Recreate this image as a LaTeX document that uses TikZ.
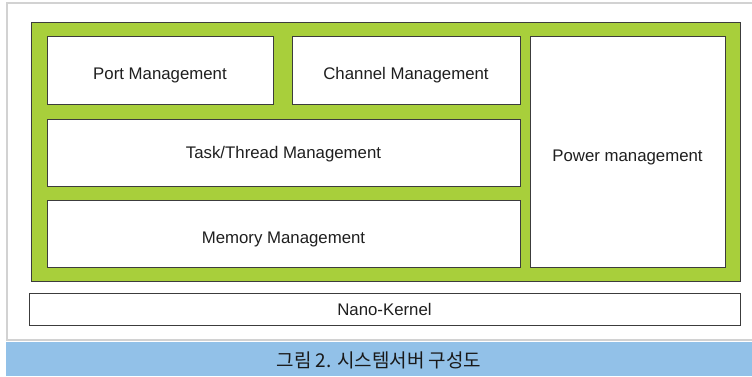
\documentclass[tikz,border=0pt]{standalone}
\usepackage{fontspec}
\setmainfont{Liberation Sans}
\newfontfamily\krfont{Noto Sans CJK KR}
\usetikzlibrary{shadows}
\definecolor{coregreen}{HTML}{A8CF3B}
\definecolor{captionblue}{HTML}{92C1E8}
\definecolor{framegray}{HTML}{D2D2D2}
\definecolor{edgegray}{HTML}{3C3C3C}
\tikzset{
  module/.style={draw=edgegray, line width=0.9pt, fill=white, anchor=north west,
    inner sep=0pt, outer sep=0pt, font=\fontsize{16.8}{19}\selectfont,
    text height=12pt, text depth=0pt, text=black!88,
    drop shadow={shadow xshift=0.8pt, shadow yshift=-0.8pt, fill=black!40, opacity=1}},
  corebox/.style={draw=edgegray, line width=0.9pt, fill=coregreen, anchor=north west,
    inner sep=0pt, outer sep=0pt,
    drop shadow={shadow xshift=0.8pt, shadow yshift=-0.8pt, fill=black!40, opacity=1}},
  label/.style={inner sep=0pt, text height=12pt, text depth=0pt, text=black!88,
    font=\fontsize{16.8}{19}\selectfont},
}
\begin{document}
\begin{tikzpicture}[x=1pt, y=-1pt]
  \useasboundingbox (0,0) rectangle (752,376);
  % light grey frame around the figure
  \draw[framegray, line width=2pt] (7,3) rectangle (770,340);
  % caption band
  \node[fill=captionblue, anchor=north west, inner sep=0pt, outer sep=0pt,
        minimum width=746pt, minimum height=34pt] (band) at (6,342) {};
  \node[font=\krfont\fontsize{19}{21}\selectfont, text=black!90, yshift=-1pt] (caption) at (band.center) {그림 2. 시스템서버 구성도};
  % green container with the managers
  \node[corebox, minimum width=709pt, minimum height=259pt] (core) at (31,22) {};
  \node[module, minimum width=226pt, minimum height=68pt] (port) at (47,36) {};
  \node[label] (portlbl) at ([yshift=-3pt]port.center) {Port Management};
  \node[module, minimum width=228pt, minimum height=68pt] (chan) at (292,36) {};
  \node[label] (chanlbl) at ([yshift=-3pt]chan.center) {Channel Management};
  \node[module, minimum width=473pt, minimum height=67pt] (task) at (47,119) {Task/Thread Management};
  \node[module, minimum width=473pt, minimum height=67pt] (mem) at (47,200) {};
  \node[label] (memlbl) at ([yshift=-3.5pt]mem.center) {Memory Management};
  \node[module, minimum width=195pt, minimum height=231pt] (power) at (530,36) {};
  \node[label] (powerlbl) at ([yshift=-3.5pt]power.center) {Power management};
  % kernel bar
  \node[module, minimum width=711pt, minimum height=32pt] (nano) at (29,293) {Nano-Kernel};
\end{tikzpicture}
\end{document}
